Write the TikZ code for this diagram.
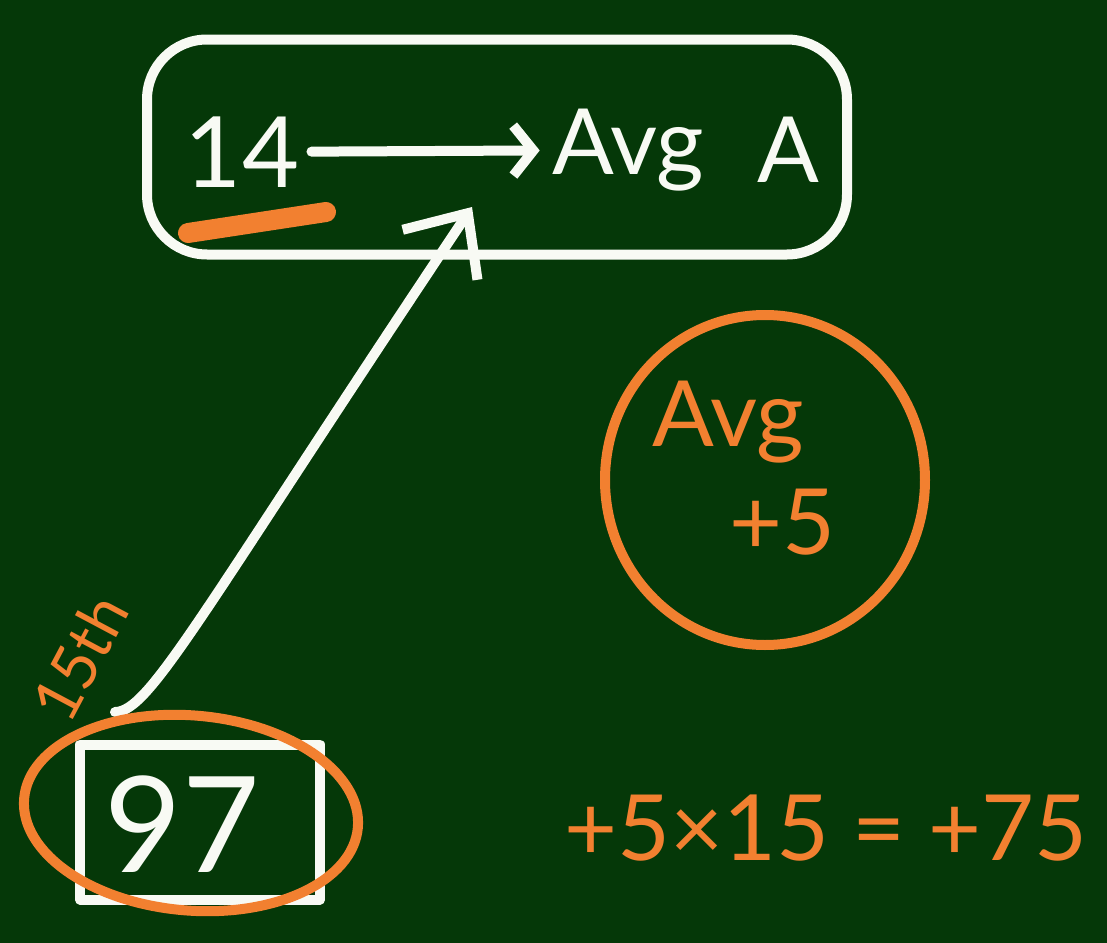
\documentclass[tikz,border=0pt]{standalone}
\usepackage{fontspec}
\setmainfont{Lato}
\usepackage{tikz}
\usetikzlibrary{arrows.meta, positioning, shapes.geometric}
\definecolor{board}{RGB}{5,56,8}
\definecolor{chalkorange}{RGB}{242,128,48}
\definecolor{chalkwhite}{RGB}{248,250,244}
\begin{document}
\begin{tikzpicture}[x=0.1mm, y=-0.1mm,
        chalk/.style={line width=1mm, line cap=round, line join=round},
        wtext/.style={text=chalkwhite, font=\fontsize{26}{30}\selectfont},
        otext/.style={text=chalkorange, font=\fontsize{26}{30}\selectfont},
        arr/.style={chalk, draw=chalkwhite, -{Straight Barb[length=5mm, width=9mm, line width=1mm]}}
    ]
        \useasboundingbox (0,0) rectangle (1107,943);
        \fill[board] (0,0) rectangle (1107,943);

        % top box
        \node[draw=chalkwhite, chalk, rounded corners=6mm, minimum width=70mm,
              minimum height=21.5mm] (avgbox) at (497,147) {};
        \node[wtext, font=\fontsize{28}{32}\selectfont] (n14) at (242,152) {14};
        \node[wtext] (avg) at (628,150) {Avg};
        \node[wtext] (qa) at (788,150) {A};
        \draw[arr, -{Straight Barb[length=2mm, width=5mm, line width=1mm]}] (n14) -- (avg);
        \draw[chalk, chalkorange, line width=2mm] (188,233) -- (326,212);

        % 15th pointer
        \coordinate (tail) at (115,712);
        \coordinate (tip) at (472,207);
        \draw[arr] (tail) .. controls (150,712) and (200,614) .. (tip);
        \node[otext, font=\fontsize{18}{20}\selectfont, rotate=62, inner sep=0pt] (lbl15) at (80,658) {15th};

        % 97 box
        \node[draw=chalkwhite, chalk, minimum width=24mm, minimum height=15.5mm] (box97) at (200,822) {};
        \node[text=chalkwhite, font=\fontsize{38}{42}\selectfont] (num97) at (182,824) {97};
        \node[draw=chalkorange, chalk, ellipse, minimum width=33.5mm,
              minimum height=19.5mm, rotate=-5] (ring97) at (191,813) {};

        % avg +5
        \node[draw=chalkorange, chalk, ellipse, minimum width=32mm,
              minimum height=33mm] (avgring) at (765,480) {};
        \node[otext] (avg5) at (728,422) {Avg};
        \node[otext] (plus5) at (782,522) {+5};

        % total
        \node[otext] (calc) at (826,828) {+5×15 = +75};
    \end{tikzpicture}
\end{document}
